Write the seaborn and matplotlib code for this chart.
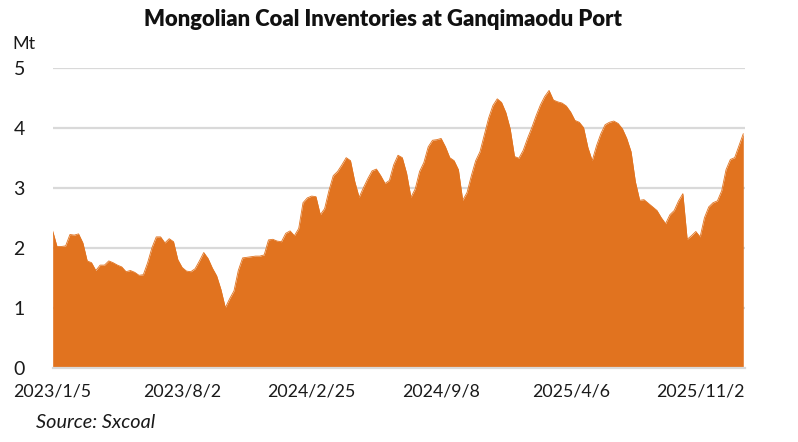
import numpy as np
import pandas as pd
import matplotlib
matplotlib.use("Agg")
import matplotlib.pyplot as plt
import seaborn as sns

# Weekly inventories (Mt)
inventory = [
    2.28, 2.02, 2.02, 2.03, 2.22, 2.21, 2.23, 2.08, 1.78, 1.75,
    1.62, 1.71, 1.71, 1.78, 1.75, 1.71, 1.68, 1.60, 1.62, 1.59,
    1.54, 1.55, 1.75, 2.00, 2.18, 2.18, 2.08, 2.15, 2.10, 1.80,
    1.67, 1.61,
    1.60, 1.65, 1.78, 1.92, 1.82, 1.66, 1.53, 1.30, 1.00, 1.15,
    1.28, 1.62, 1.83, 1.84, 1.85, 1.86, 1.86, 1.88, 2.13, 2.14,
    2.11, 2.10, 2.24, 2.28, 2.20, 2.32, 2.75, 2.83,
    2.86, 2.85, 2.55, 2.65, 2.95, 3.20, 3.27, 3.38, 3.50, 3.45,
    3.10, 2.84, 3.00, 3.15, 3.28, 3.31, 3.20, 3.07, 3.12, 3.38,
    3.54, 3.50, 3.24, 2.84, 2.98, 3.27, 3.42, 3.68, 3.79, 3.80,
    3.82, 3.68, 3.50, 3.45, 3.30, 2.79, 2.92, 3.20, 3.45, 3.60,
    3.88, 4.16, 4.37, 4.48, 4.42, 4.25, 3.98, 3.52, 3.49, 3.62,
    3.82, 4.00, 4.20, 4.38, 4.52, 4.62, 4.46, 4.43, 4.41, 4.36,
    4.26, 4.12, 4.09, 4.00, 3.67, 3.45, 3.70, 3.90, 4.05, 4.09,
    4.11, 4.07, 3.98, 3.82, 3.60, 3.10, 2.79, 2.80, 2.74, 2.68,
    2.62, 2.50, 2.40, 2.55, 2.62, 2.78, 2.90, 2.14, 2.20, 2.27,
    2.18, 2.50, 2.68, 2.75, 2.78, 2.95, 3.30, 3.47, 3.50, 3.70,
    3.90,
]
tick_labels = ["2023/1/5", "2023/8/2", "2024/2/25", "2024/9/8", "2025/4/6", "2025/11/2"]
tick_positions = [0, 30, 60, 90, 120, 150]
y_ticks = [0, 1, 2, 3, 4, 5]

title = "Mongolian Coal Inventories at Ganqimaodu Port"
unit = "Mt"
source = "Source: Sxcoal"

df = pd.DataFrame({"idx": np.arange(len(inventory)), "value": inventory})

sns.set_style("white")
plt.rcParams["font.family"] = ["Lato", "DejaVu Sans"]

color = "#E1731F"
grid_c = "#D9D9D9"

fig = plt.figure(figsize=(7.98, 4.42), dpi=100)
ax = fig.add_axes([0.066, 0.168, 0.8676, 0.679])

ax.fill_between(df["idx"], 0, df["value"], color=color, lw=0, zorder=2)
sns.lineplot(data=df, x="idx", y="value", ax=ax, color=color, lw=0.6, zorder=3)

ax.set_xlim(0, 160.4)
ax.set_ylim(0, 5)
ax.set_yticks(y_ticks)
ax.set_yticklabels([str(v) for v in y_ticks])
ax.set_xticks(tick_positions)
ax.set_xticklabels(tick_labels)
ax.set_xlabel("")
ax.set_ylabel("")

for v in y_ticks[1:]:
    ax.axhline(v, color=grid_c, lw=1.6, zorder=1)

for s in ["top", "right", "left"]:
    ax.spines[s].set_visible(False)
ax.spines["bottom"].set_color(grid_c)
ax.spines["bottom"].set_linewidth(1.6)
ax.spines["bottom"].set_zorder(4)

ax.tick_params(axis="y", length=0, pad=20, labelsize=14, labelcolor="#1a1a1a")
ax.tick_params(axis="x", length=4, width=1.2, color=grid_c, pad=7, labelsize=12.8,
               labelcolor="#1a1a1a")

fig.text(0.48, 0.955, title, ha="center", va="center", fontsize=15.8,
         fontweight="heavy", color="#111111")
fig.text(0.015, 0.9, unit, ha="left", va="center", fontsize=13, color="#1a1a1a")
fig.text(0.045, 0.043, source, ha="left", va="center", fontsize=14.3,
         style="italic", color="#1a1a1a")

fig.savefig("out.png", dpi=100)
